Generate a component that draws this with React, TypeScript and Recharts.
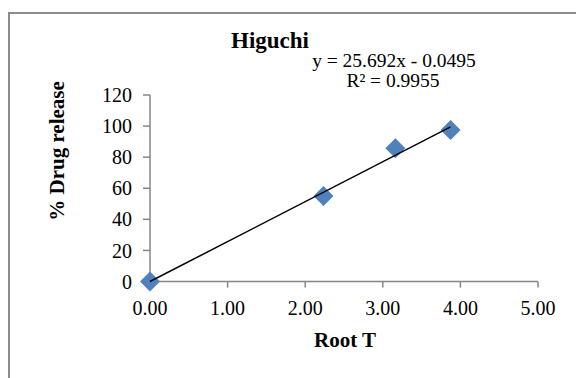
import React from "react";
import { ScatterChart, Scatter, XAxis, YAxis } from "recharts";

const rootT = [0, 2.236, 3.162, 3.873];
const drugRelease = [0, 55.0, 85.8, 97.5];
const trendX = [0, 3.873];
const trendY = [0, 99.45];
const xTicks = [0, 1, 2, 3, 4, 5];
const yTicks = [0, 20, 40, 60, 80, 100, 120];

const points = rootT.map((x, i) => ({ x, y: drugRelease[i] }));
const trend = trendX.map((x, i) => ({ x, y: trendY[i] }));

const FONT = "'Liberation Serif', 'Times New Roman', serif";
const AXIS = "#868686";

const Diamond = (props: any) => {
  const { cx, cy } = props;
  const r = 10;
  return (
    <path
      d={`M${cx},${cy - r} L${cx + r},${cy} L${cx},${cy + r} L${cx - r},${cy} Z`}
      fill="#4F81BD"
    />
  );
};

const NoDot = () => <g />;

export default function App() {
  return (
    <div style={{ position: "fixed", left: 0, top: 0, width: 576, height: 378, background: "#fff" }}>
      <ScatterChart
        width={576}
        height={378}
        margin={{ top: 95, right: 38, left: 0, bottom: 0 }}
      >
        <XAxis
          type="number"
          dataKey="x"
          domain={[0, 5]}
          ticks={xTicks}
          tickFormatter={(v: number) => v.toFixed(2)}
          height={96.5}
          stroke={AXIS}
          strokeWidth={1.5}
          tickSize={6}
          tickMargin={13}
          tick={{ fill: "#000", fontSize: 20, fontFamily: FONT }}
        />
        <YAxis
          type="number"
          dataKey="y"
          domain={[0, 120]}
          ticks={yTicks}
          width={150}
          stroke={AXIS}
          strokeWidth={1.5}
          tickSize={7}
          tickMargin={11}
          tick={{ fill: "#000", fontSize: 20, fontFamily: FONT }}
        />
        <Scatter data={points} shape={Diamond} isAnimationActive={false} />
        <Scatter
          data={trend}
          line={{ stroke: "#000", strokeWidth: 1.5 }}
          shape={NoDot}
          isAnimationActive={false}
        />
      </ScatterChart>
      <svg
        width={576}
        height={378}
        style={{ position: "absolute", left: 0, top: 0, pointerEvents: "none" }}
      >
        <rect x={9} y={13} width={600} height={400} fill="none" stroke="#8c8c8c" strokeWidth={2} />
        <text x={270} y={48} textAnchor="middle" fontFamily={FONT} fontSize={23} fontWeight="bold">
          Higuchi
        </text>
        <text x={394} y={67} textAnchor="middle" fontFamily={FONT} fontSize={19.5}>
          y = 25.692x - 0.0495
        </text>
        <text x={393} y={87} textAnchor="middle" fontFamily={FONT} fontSize={19.5}>
          R² = 0.9955
        </text>
        <text
          x={0}
          y={0}
          transform="translate(64,151) rotate(-90)"
          textAnchor="middle"
          fontFamily={FONT}
          fontSize={21}
          fontWeight="bold"
        >
          % Drug release
        </text>
        <text x={345} y={347} textAnchor="middle" fontFamily={FONT} fontSize={21} fontWeight="bold">
          Root T
        </text>
      </svg>
    </div>
  );
}
